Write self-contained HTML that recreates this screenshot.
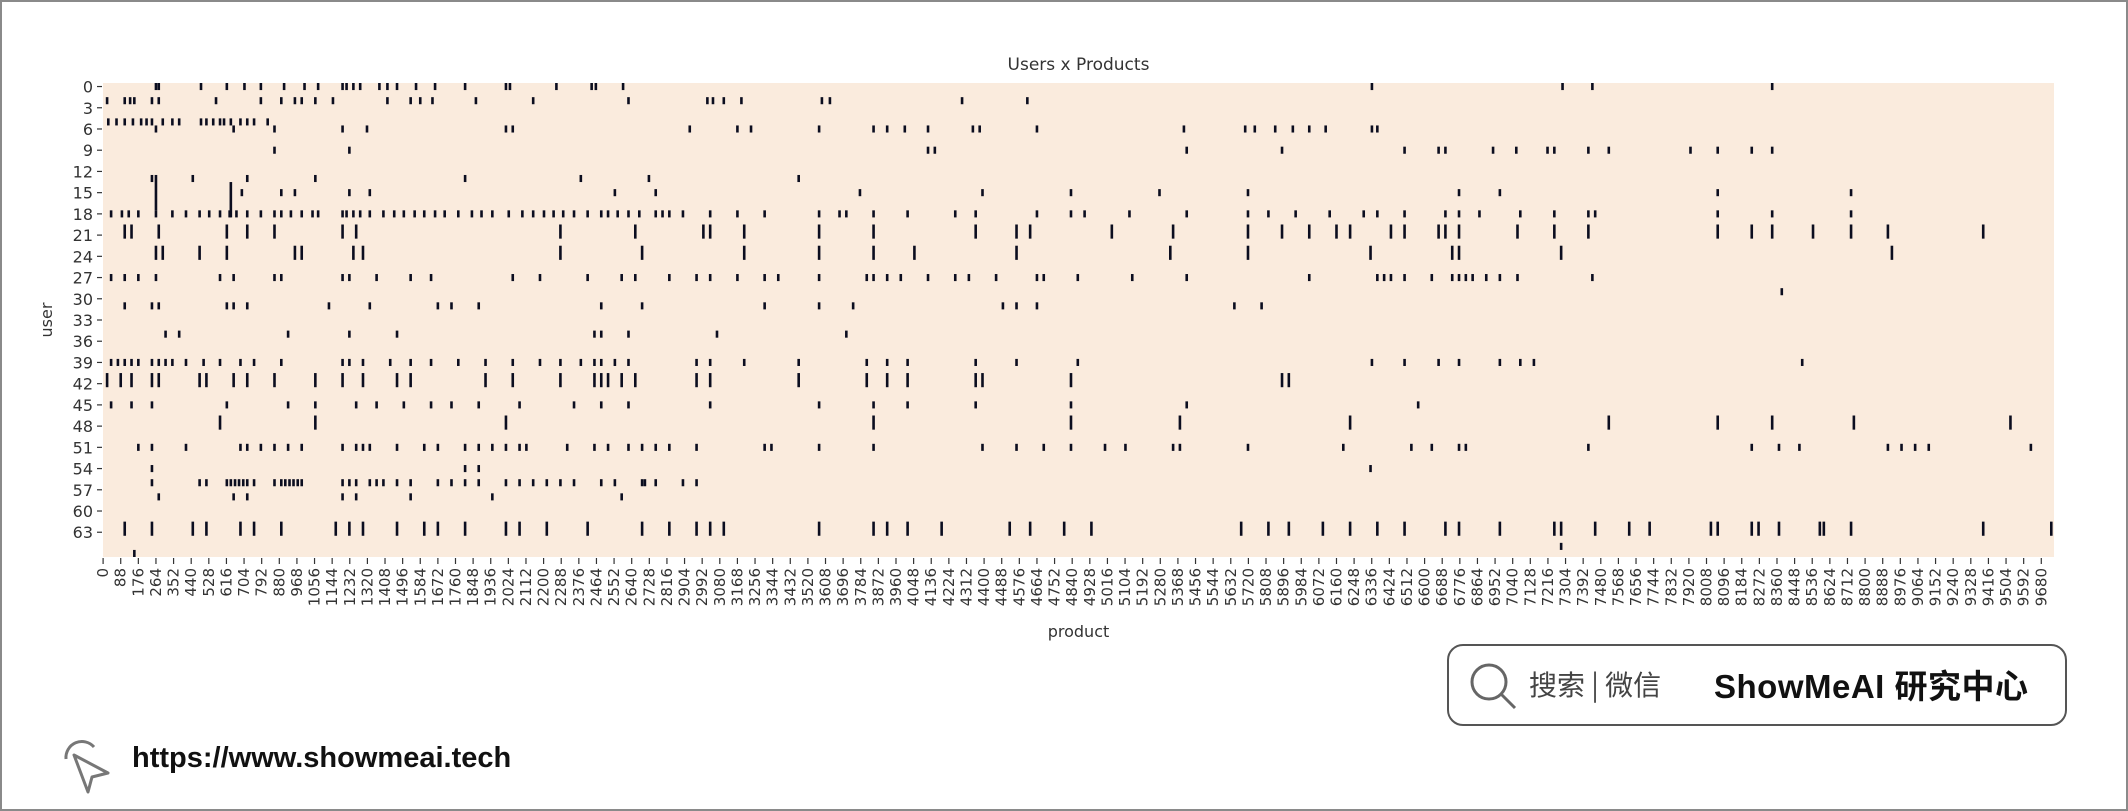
<!DOCTYPE html>
<html><head><meta charset="utf-8"><style>
body{margin:0;background:#fff;}
#wrap{position:relative;width:2128px;height:811px;overflow:hidden;background:#fff;box-sizing:border-box;border:2px solid #8a8a8a;}
svg text{font-family:"DejaVu Sans","Liberation Sans",sans-serif;}
#wm{position:absolute;left:1445px;top:642px;width:620px;height:82px;border:2px solid #555;border-radius:16px;box-sizing:border-box;}
#url{position:absolute;left:130px;top:740px;font:bold 29px "Liberation Sans",sans-serif;color:#111;}
</style></head><body>
<div id="wrap">
<svg id="chart" width="2128" height="811" style="position:absolute;left:-2px;top:-2px"></svg>
<div id="wm">
<svg width="60" height="60" style="position:absolute;left:14px;top:10px"><circle cx="26" cy="26" r="17" fill="none" stroke="#666" stroke-width="3"/><line x1="38" y1="38" x2="52" y2="52" stroke="#666" stroke-width="3"/></svg>
<span style="position:absolute;left:80px;top:18px;font:28px 'Noto Sans CJK SC',sans-serif;color:#444">搜索 | 微信</span>
<span style="position:absolute;left:265px;top:14px;font:bold 33px 'Liberation Sans','Noto Sans CJK SC',sans-serif;color:#111;letter-spacing:0.5px">ShowMeAI 研究中心</span>
</div>
<svg width="60" height="60" style="position:absolute;left:58px;top:735px"><path d="M6 22 A16 16 0 0 1 34 10" fill="none" stroke="#777" stroke-width="3"/><path d="M14 18 L48 36 L32 40 L28 55 Z" fill="none" stroke="#777" stroke-width="3" stroke-linejoin="round"/></svg>
<div id="url">https://www.showmeai.tech</div>
</div>
<script>
const nUsers = 67;
const nProducts = 9744;
const yTickLabels = [0,3,6,9,12,15,18,21,24,27,30,33,36,39,42,45,48,51,54,57,60,63];
const xTickStep = 88;
const xTickMax = 9680;
// rows: [user, rowSpan, products]
const rows = [
[0,1,[258,272,483,612,700,782,898,1000,1068,1190,1210,1244,1278,1374,1414,1462,1557,1652,1802,2006,2026,2258,2434,2455,2591,6331,7283,7432,8330]],
[2,1,[14,102,129,150,238,272,558,782,884,952,986,1054,1142,1414,1530,1578,1639,1856,2142,2618,3012,3040,3094,3182,3584,3624,4284,4610]],
[5,1,[20,61,102,143,184,211,238,292,340,374,483,510,544,578,598,632,680,714,748,816]],
[6,1,[258,646,850,1190,1312,2006,2040,2924,3162,3230,3570,3842,3910,3998,4114,4338,4372,4658,5392,5698,5746,5848,5936,6018,6100,6331,6358]],
[9,1,[850,1224,4114,4148,5406,5882,6494,6664,6698,6936,7052,7208,7242,7412,7514,7922,8058,8228,8330]],
[13,1,[238,442,714,1054,1802,2380,2720,3468]],
[13,5,[258]],
[14,5,[632]],
[15,1,[687,884,952,1224,1326,2550,2754,3774,4386,4828,5270,5712,6766,6970,8058,8724]],
[18,1,[34,88,122,170,258,340,408,476,524,578,626,660,714,782,850,884,932,986,1040,1068,1190,1210,1244,1278,1326,1394,1448,1496,1550,1598,1652,1700,1768,1836,1884,1938,2020,2088,2142,2196,2244,2292,2346,2414,2482,2516,2564,2618,2672,2754,2788,2822,2890,3026,3162,3298,3570,3672,3706,3842,4012,4250,4352,4658,4828,4896,5120,5406,5712,5814,5950,6120,6290,6358,6494,6698,6766,6868,7072,7242,7412,7446,8058,8330,8724]],
[20,2,[102,136,272,612,714,850,1190,1258,2278,2652,2992,3026,3196,3570,3842,4352,4556,4624,5032,5338,5712,5882,6018,6154,6222,6426,6494,6664,6698,6766,7058,7242,7412,8058,8228,8330,8534,8724,8908,9384]],
[23,2,[258,292,476,612,952,986,1244,1292,2278,2686,3196,3570,3842,4046,4556,5324,5712,6324,6732,6766,7276,8928]],
[27,1,[34,102,170,258,578,646,850,884,1190,1224,1360,1530,1632,2040,2176,2414,2584,2652,2822,2958,3026,3162,3298,3366,3570,3808,3842,3910,3978,4114,4250,4318,4454,4658,4692,4862,5134,5406,6018,6358,6392,6426,6494,6630,6732,6766,6800,6834,6902,6970,7058,7432]],
[29,1,[8378]],
[31,1,[102,238,272,612,646,714,1122,1326,1666,1734,1870,2482,2686,3298,3570,3740,4488,4556,4658,5644,5780]],
[35,1,[306,374,918,1224,1462,2448,2482,2618,3060,3706]],
[39,1,[34,68,102,136,170,238,272,306,340,408,496,578,680,748,884,1190,1224,1292,1428,1530,1632,1768,1904,2040,2176,2278,2380,2448,2482,2550,2618,2958,3026,3196,3468,3808,3910,4012,4352,4556,4862,6331,6494,6664,6766,6970,7072,7140,8480]],
[41,2,[14,82,136,238,272,476,510,646,714,850,1054,1190,1292,1462,1530,1904,2040,2278,2448,2482,2516,2584,2652,2958,3026,3468,3808,3910,4012,4352,4386,4828,5882,5916]],
[45,1,[34,136,238,612,918,1054,1258,1360,1496,1632,1734,1870,2074,2346,2482,2618,3026,3570,3842,4012,4352,4828,5406,6562]],
[47,2,[578,1054,2006,3842,4828,5372,6222,7514,8058,8330,8738,9520]],
[51,1,[170,238,408,680,714,782,850,918,986,1190,1258,1292,1326,1462,1598,1666,1802,1870,1938,2006,2074,2108,2312,2448,2516,2618,2686,2754,2822,2958,3298,3332,3570,3842,4386,4556,4692,4828,4998,5100,5338,5372,5712,6188,6528,6630,6766,6800,7412,8228,8364,8466,8908,8976,9044,9112,9622]],
[54,1,[238,1802,1870,6324]],
[56,1,[238,476,510,612,632,653,673,694,714,748,850,884,904,925,945,966,986,1190,1224,1258,1326,1360,1394,1462,1530,1666,1734,1802,1870,2006,2074,2142,2210,2278,2346,2482,2550,2686,2700,2754,2890,2958]],
[58,1,[272,646,714,1190,1258,1530,1938,2584]],
[62,2,[102,238,442,510,680,748,884,1156,1224,1292,1462,1598,1666,1802,2006,2074,2210,2414,2686,2822,2958,3026,3094,3570,3842,3910,4012,4182,4522,4624,4794,4930,5678,5814,5916,6086,6222,6358,6494,6698,6766,6970,7242,7276,7446,7616,7718,8024,8058,8228,8262,8364,8568,8588,8724,9384,9724]],
[65,1,[7276]],
[66,1,[150]]
];
const svg=document.getElementById('chart');
const NS='http://www.w3.org/2000/svg';
const X0=103,X1=2054,Y0=83,Y1=557;
const xs=p=>X0+(p/nProducts)*(X1-X0);
const ys=u=>Y0+(u/nUsers)*(Y1-Y0);
function mk(tag,attrs,parent){const e=document.createElementNS(NS,tag);for(const k in attrs)e.setAttribute(k,attrs[k]);(parent||svg).appendChild(e);return e;}
const bg=mk('rect',{x:X0,y:Y0,width:X1-X0,height:Y1-Y0,fill:'#faebdd'});


const g=mk('g',{});


rows.forEach(r=>{const u=r[0],span=r[1];r[2].forEach(p=>{
 const c=mk('rect',{x:xs(p),y:ys(u),width:2.6,height:ys(u+span)-ys(u),fill:'#0b0d1f'},g);
 
 
});});
yTickLabels.forEach(v=>{const y=ys(v+0.5);
 mk('line',{x1:X0-6,x2:X0-1,y1:y,y2:y,stroke:'#333','stroke-width':1.2});
 const t=mk('text',{x:X0-10,y:y+6,'font-size':16,'text-anchor':'end',fill:'#333'});t.textContent=v;
 
 
});
for(let v=0;v<=xTickMax;v+=xTickStep){const x=xs(v+0.5);
 mk('line',{x1:x,x2:x,y1:Y1+1,y2:Y1+7,stroke:'#333','stroke-width':1.2});
 const t=mk('text',{x:0,y:0,'font-size':15,'text-anchor':'end',fill:'#333',transform:`translate(${x+5},${Y1+11}) rotate(-90)`});t.textContent=v;
 
 
}
const tt=mk('text',{x:(X0+X1)/2,y:70,'font-size':17,'text-anchor':'middle',fill:'#333'});tt.textContent='Users x Products';


const xl=mk('text',{x:(X0+X1)/2,y:637,'font-size':16,'text-anchor':'middle',fill:'#333'});xl.textContent='product';


const yl=mk('text',{x:0,y:0,'font-size':16,'text-anchor':'middle',fill:'#333',transform:`translate(52,${(Y0+Y1)/2}) rotate(-90)`});yl.textContent='user';


</script>
</body></html>
